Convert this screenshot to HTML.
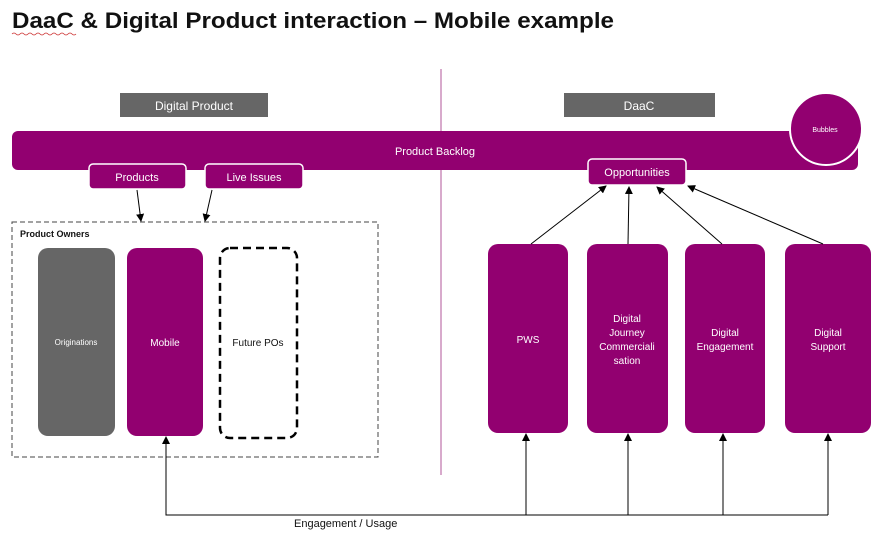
<!DOCTYPE html>
<html><head><meta charset="utf-8"><style>
html,body{margin:0;padding:0;background:#fff;width:880px;height:541px;overflow:hidden}
svg{display:block}
text{font-family:"Liberation Sans",sans-serif}
</style></head><body>
<svg width="880" height="541" viewBox="0 0 880 541" xmlns="http://www.w3.org/2000/svg">
<defs><marker id="a" markerWidth="8" markerHeight="8" refX="7" refY="4" orient="auto" markerUnits="userSpaceOnUse"><path d="M0,0 L8,4 L0,8 z" fill="#000"/></marker></defs>
<text x="12" y="28" font-size="22" font-weight="bold" fill="#111" textLength="602" lengthAdjust="spacingAndGlyphs">DaaC &amp; Digital Product interaction – Mobile example</text>
<path d="M12 34 q2 -2 4 0 t4 0 t4 0 t4 0 t4 0 t4 0 t4 0 t4 0 t4 0 t4 0 t4 0 t4 0 t4 0 t4 0 t4 0 t4 0" stroke="#c33" stroke-width="0.8" fill="none"/>
<line x1="441" y1="69" x2="441" y2="475" stroke="#b0559a" stroke-width="1"/>
<rect x="120" y="93" width="148" height="24" fill="#666"/>
<text x="194" y="110" font-size="12" fill="#fff" text-anchor="middle">Digital Product</text>
<rect x="564" y="93" width="151" height="24" fill="#666"/>
<text x="639" y="110" font-size="12" fill="#fff" text-anchor="middle">DaaC</text>
<rect x="12" y="131" width="846" height="39" rx="6" fill="#920070"/>
<text x="435" y="155" font-size="11" fill="#fff" text-anchor="middle">Product Backlog</text>
<circle cx="826" cy="129" r="36" fill="#920070" stroke="#fff" stroke-width="2"/>
<text x="825" y="132" font-size="7" fill="#fff" text-anchor="middle">Bubbles</text>
<rect x="89" y="164" width="97" height="25" rx="4" fill="#920070" stroke="#fff" stroke-width="1.5"/>
<text x="137" y="181" font-size="11" fill="#fff" text-anchor="middle">Products</text>
<rect x="205" y="164" width="98" height="25" rx="4" fill="#920070" stroke="#fff" stroke-width="1.5"/>
<text x="254" y="181" font-size="11" fill="#fff" text-anchor="middle">Live Issues</text>
<rect x="588" y="159" width="98" height="26" rx="4" fill="#920070" stroke="#fff" stroke-width="1.5"/>
<text x="637" y="176" font-size="11" fill="#fff" text-anchor="middle">Opportunities</text>
<rect x="12" y="222" width="366" height="235" fill="none" stroke="#444" stroke-width="1" stroke-dasharray="5,3"/>
<text x="20" y="237" font-size="9" font-weight="bold" fill="#111">Product Owners</text>
<rect x="38" y="248" width="77" height="188" rx="10" fill="#666"/>
<text x="76" y="345" font-size="8" fill="#fff" text-anchor="middle">Originations</text>
<rect x="127" y="248" width="76" height="188" rx="10" fill="#920070"/>
<text x="165" y="346" font-size="10" fill="#fff" text-anchor="middle">Mobile</text>
<rect x="220" y="248" width="77" height="190" rx="10" fill="none" stroke="#000" stroke-width="2.5" stroke-dasharray="8,5"/>
<text x="258" y="346" font-size="10" fill="#111" text-anchor="middle">Future POs</text>
<rect x="488" y="244" width="80" height="189" rx="10" fill="#920070"/>
<text x="528" y="343" font-size="10" fill="#fff" text-anchor="middle">PWS</text>
<rect x="587" y="244" width="81" height="189" rx="10" fill="#920070"/>
<text font-size="10" fill="#fff" text-anchor="middle"><tspan x="627" y="322">Digital</tspan><tspan x="627" y="336">Journey</tspan><tspan x="627" y="350">Commerciali</tspan><tspan x="627" y="364">sation</tspan></text>
<rect x="685" y="244" width="80" height="189" rx="10" fill="#920070"/>
<text font-size="10" fill="#fff" text-anchor="middle"><tspan x="725" y="336">Digital</tspan><tspan x="725" y="350">Engagement</tspan></text>
<rect x="785" y="244" width="86" height="189" rx="10" fill="#920070"/>
<text font-size="10" fill="#fff" text-anchor="middle"><tspan x="828" y="336">Digital</tspan><tspan x="828" y="350">Support</tspan></text>
<g stroke="#000" stroke-width="1" fill="none">
<line x1="137" y1="190" x2="141" y2="221" marker-end="url(#a)"/>
<line x1="212" y1="190" x2="205" y2="221" marker-end="url(#a)"/>
<line x1="531" y1="244" x2="606" y2="186" marker-end="url(#a)"/>
<line x1="628" y1="244" x2="629" y2="187" marker-end="url(#a)"/>
<line x1="722" y1="244" x2="657" y2="187" marker-end="url(#a)"/>
<line x1="823" y1="244" x2="688" y2="186" marker-end="url(#a)"/>
<polyline points="166,437 166,515 828,515"/>
<line x1="166" y1="515" x2="166" y2="437" marker-end="url(#a)"/>
<line x1="526" y1="515" x2="526" y2="434" marker-end="url(#a)"/>
<line x1="628" y1="515" x2="628" y2="434" marker-end="url(#a)"/>
<line x1="723" y1="515" x2="723" y2="434" marker-end="url(#a)"/>
<line x1="828" y1="515" x2="828" y2="434" marker-end="url(#a)"/>
</g>
<text x="294" y="527" font-size="11" fill="#111">Engagement / Usage</text>
</svg>
</body></html>
